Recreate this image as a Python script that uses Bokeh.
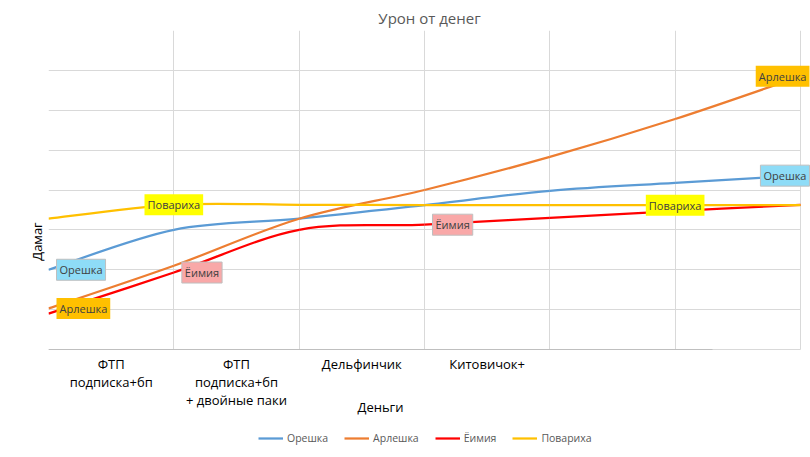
from bokeh.plotting import figure
from bokeh.models import Range1d, FixedTicker, Legend, LegendItem, ColumnDataSource
from bokeh.core.properties import value
from bokeh.embed import file_html
from bokeh.resources import INLINE

# ---------------- data ----------------
title_text = "Урон от денег"
x_label = "Деньги"
y_label = "Дамаг"
category_positions = [0.5, 1.5, 2.5, 3.5]
category_labels = ["ФТП\nподписка+бп",
                   "ФТП\nподписка+бп\n+ двойные паки",
                   "Дельфинчик",
                   "Китовичок+"]
x_points = [0, 1, 2, 3, 4, 5, 6]
series_names = ["Орешка", "Арлешка", "Ёимия", "Повариха"]
oreshka = [2.0, 3.0, 3.28, 3.62, 3.98, 4.18, 4.36]
arleshka = [1.03, 2.1, 3.28, 4.0, 4.83, 5.78, 6.85]
eimiya = [0.9, 1.93, 3.0, 3.13, 3.3, 3.47, 3.63]
povarikha = [3.28, 3.63, 3.63, 3.62, 3.62, 3.62, 3.62]
# which points carry a data label, and how that label is placed
label_points = {
    "Орешка": [(0, "right"), (6, "edge")],
    "Арлешка": [(0, "right"), (6, "edge")],
    "Ёимия": [(1, "right"), (3, "right")],
    "Повариха": [(1, "center"), (5, "center")],
}

series_values = {"Орешка": oreshka, "Арлешка": arleshka,
                 "Ёимия": eimiya, "Повариха": povarikha}
line_colors = {"Орешка": "#5B9BD5", "Арлешка": "#ED7D31",
               "Ёимия": "#FF0000", "Повариха": "#FFC000"}
label_fill = {"Орешка": "#8EDCF7", "Арлешка": "#FFC000",
              "Ёимия": "#F9A8A8", "Повариха": "#FFFF00"}
label_border = {"Орешка": "#BFBFBF", "Арлешка": None,
                "Ёимия": "#BFBFBF", "Повариха": None}

FONT = "Open Sans"

# frame reaches down to hold axis texts and legend; the value axis spans 0..8
p = figure(frame_width=762, frame_height=422, output_backend="svg", toolbar_location=None,
           x_range=Range1d(0, 6.08), y_range=Range1d(-2.583, 8),
           min_border_left=48, min_border_right=0, min_border_top=30,
           min_border_bottom=0)
p.outline_line_color = None
p.background_fill_color = "white"
p.border_fill_color = "white"

# title
p.title.text = title_text
p.title.align = "center"
p.title.text_font = FONT
p.title.text_font_size = "15px"
p.title.text_font_style = "normal"
p.title.text_color = "#595959"
p.title.standoff = 5

# grids
p.xgrid.ticker = FixedTicker(ticks=x_points)
p.ygrid.ticker = FixedTicker(ticks=[0, 1, 2, 3, 4, 5, 6, 7, 8])
p.xgrid.grid_line_color = "#D9D9D9"
p.ygrid.grid_line_color = "#D9D9D9"
p.ygrid.cross_bounds = (0, 6)
p.xgrid.cross_bounds = (0, 8)

# x axis, drawn at value 0
p.xaxis.fixed_location = 0
p.xaxis.ticker = FixedTicker(ticks=category_positions)
p.xaxis.major_label_overrides = dict(zip(category_positions, category_labels))
p.xaxis.bounds = (0, 5.3)
p.xaxis.major_tick_line_color = None
p.xaxis.minor_tick_line_color = None
p.xaxis.major_tick_out = 0
p.xaxis.major_tick_in = 0
p.xaxis.axis_line_color = "#BFBFBF"
p.xaxis.major_label_text_font = FONT
p.xaxis.major_label_text_font_size = "13px"
p.xaxis.major_label_text_color = "#000000"
p.xaxis.major_label_text_line_height = 1.0
p.xaxis.major_label_standoff = 5
p.xaxis.axis_label = x_label
p.xaxis.axis_label_text_font = FONT
p.xaxis.axis_label_text_font_size = "13px"
p.xaxis.axis_label_text_font_style = "normal"
p.xaxis.axis_label_text_color = "#000000"
p.xaxis.axis_label_standoff = -14

# y axis (no tick labels)
p.yaxis.ticker = FixedTicker(ticks=[])
p.yaxis.bounds = (0, 6.37)
p.yaxis.axis_line_color = None
p.yaxis.major_tick_line_color = None
p.yaxis.minor_tick_line_color = None
p.yaxis.major_tick_out = 0
p.yaxis.major_label_standoff = 0
p.yaxis.axis_label = y_label
p.yaxis.axis_label_text_font = FONT
p.yaxis.axis_label_text_font_size = "13px"
p.yaxis.axis_label_text_font_style = "normal"
p.yaxis.axis_label_text_color = "#000000"
p.yaxis.axis_label_standoff = 3


def bezier_source(xs, ys):
    """Catmull-Rom style smoothing expressed as cubic Bezier control points."""
    n = len(xs)
    d = dict(x0=[], y0=[], x1=[], y1=[], cx0=[], cy0=[], cx1=[], cy1=[])
    for i in range(n - 1):
        xa, ya = xs[max(i - 1, 0)], ys[max(i - 1, 0)]
        xb, yb = xs[i], ys[i]
        xc, yc = xs[i + 1], ys[i + 1]
        xd, yd = xs[min(i + 2, n - 1)], ys[min(i + 2, n - 1)]
        d["x0"].append(xb); d["y0"].append(yb)
        d["x1"].append(xc); d["y1"].append(yc)
        d["cx0"].append(xb + (xc - xa) / 6.0); d["cy0"].append(yb + (yc - ya) / 6.0)
        d["cx1"].append(xc - (xd - xb) / 6.0); d["cy1"].append(yc - (yd - yb) / 6.0)
    return ColumnDataSource(d)


legend_items = []
for name in series_names:
    ys = series_values[name]
    src = bezier_source(x_points, ys)
    r = p.bezier(x0="x0", y0="y0", x1="x1", y1="y1", cx0="cx0", cy0="cy0",
                 cx1="cx1", cy1="cy1", source=src, line_color=line_colors[name],
                 line_width=2.25)
    legend_items.append(LegendItem(label=name, renderers=[r]))

# data labels
placements = {"right": ("center_left", 8), "center": ("center", 0),
              "edge": ("center_right", 9)}
for name in series_names:
    ys = series_values[name]
    for idx, place in label_points[name]:
        anchor, xoff = placements[place]
        src = ColumnDataSource(dict(x=[x_points[idx]], y=[ys[idx]], t=[name]))
        p.text(x="x", y="y", text="t", source=src, anchor=anchor, x_offset=xoff,
               text_font=value(FONT), text_font_size="11px", text_color="#404040",
               background_fill_color=label_fill[name],
               border_line_color=label_border[name], padding=3)

legend = Legend(items=legend_items, orientation="horizontal", location=(210, 7),
                label_text_font=FONT, label_text_font_size="10.5px",
                label_text_color="#595959", glyph_width=25, glyph_height=12,
                label_standoff=4, spacing=16, padding=0, margin=0,
                border_line_color=None, background_fill_alpha=0)
p.add_layout(legend)

open("out.html", "w").write(file_html(p, INLINE))
